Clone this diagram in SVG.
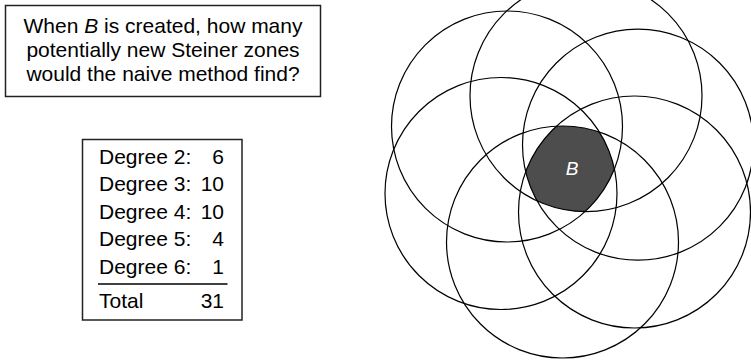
<svg xmlns="http://www.w3.org/2000/svg" width="751" height="362" viewBox="0 0 751 362">
<style>
.t{font-family:"Liberation Sans",Arial,sans-serif;font-size:21px;fill:#000}
.box{fill:#fff;stroke:#222;stroke-width:1.5}
.c{fill:none;stroke:#000;stroke-width:1.2}
</style>
<defs>
<clipPath id="k1"><circle cx="507" cy="126.5" r="115.5"/></clipPath>
<clipPath id="k2"><circle cx="586" cy="95.7" r="116"/></clipPath>
<clipPath id="k3"><circle cx="638" cy="144.7" r="115.5"/></clipPath>
<clipPath id="k4"><circle cx="501" cy="193.5" r="116"/></clipPath>
<clipPath id="k5"><circle cx="634.5" cy="212" r="116"/></clipPath>
<clipPath id="k6"><circle cx="562.5" cy="242" r="116"/></clipPath>
</defs>
<rect width="751" height="362" fill="#fff"/>
<g id="question">
<rect class="box" x="5.5" y="5.5" width="315" height="91"/>
<text class="t" x="163" y="33" text-anchor="middle">When <tspan font-style="italic">B</tspan> is created, how many</text>
<text class="t" x="163" y="57" text-anchor="middle">potentially new Steiner zones</text>
<text class="t" x="163" y="81" text-anchor="middle">would the naive method find?</text>
</g>
<g id="table">
<rect class="box" x="82.5" y="139.5" width="159.5" height="180.5"/>
<text class="t" x="99" y="163.5">Degree 2:</text><text class="t" x="224" y="163.5" text-anchor="end">6</text>
<text class="t" x="99" y="191">Degree 3:</text><text class="t" x="224" y="191" text-anchor="end">10</text>
<text class="t" x="99" y="218.5">Degree 4:</text><text class="t" x="224" y="218.5" text-anchor="end">10</text>
<text class="t" x="99" y="246">Degree 5:</text><text class="t" x="224" y="246" text-anchor="end">4</text>
<text class="t" x="99" y="273.5">Degree 6:</text><text class="t" x="224" y="273.5" text-anchor="end">1</text>
<line x1="98" y1="284" x2="227.5" y2="284" stroke="#000" stroke-width="1.3"/>
<text class="t" x="99" y="308">Total</text><text class="t" x="224" y="308" text-anchor="end">31</text>
</g>
<g id="zoneB">
<g clip-path="url(#k1)"><g clip-path="url(#k2)"><g clip-path="url(#k3)"><g clip-path="url(#k4)"><g clip-path="url(#k5)"><g clip-path="url(#k6)">
<rect x="380" y="0" width="371" height="362" fill="#4d4d4d"/>
</g></g></g></g></g></g>
<text x="572" y="175" text-anchor="middle" font-family="Liberation Sans,Arial,sans-serif" font-size="19" font-style="italic" fill="#fff">B</text>
</g>
<g id="circles">
<circle class="c" cx="507" cy="126.5" r="115.5"/>
<circle class="c" cx="586" cy="95.7" r="116"/>
<circle class="c" cx="638" cy="144.7" r="115.5"/>
<circle class="c" cx="501" cy="193.5" r="116"/>
<circle class="c" cx="634.5" cy="212" r="116"/>
<circle class="c" cx="562.5" cy="242" r="116"/>
</g>
</svg>
